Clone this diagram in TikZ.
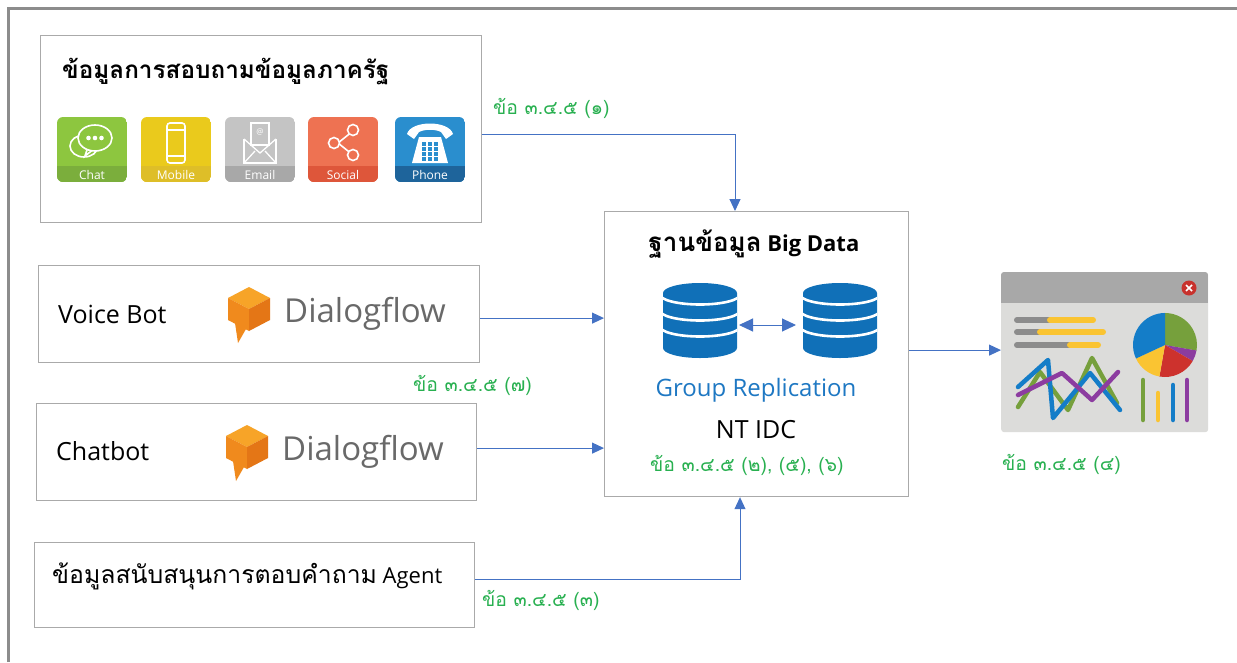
\documentclass[tikz,border=0pt]{standalone}
\usepackage{fontspec}
\setmainfont{Open Sans}
\newfontfamily\thaifont[Script=Thai, Scale=1.18]{Loma}
\usetikzlibrary{arrows.meta,calc}

\definecolor{framegray}{RGB}{140,140,140}
\definecolor{boxgray}{RGB}{170,170,170}
\definecolor{arrblue}{RGB}{68,114,196}
\definecolor{refgreen}{RGB}{40,176,80}
\definecolor{repblue}{RGB}{30,120,195}
\definecolor{dbblue}{RGB}{16,112,184}
\definecolor{dfgray}{RGB}{105,105,105}
\definecolor{dforange}{RGB}{240,138,29}
\definecolor{dflight}{RGB}{247,164,40}
\definecolor{dfdark}{RGB}{228,118,22}
\definecolor{dashbody}{RGB}{220,220,218}
\definecolor{dashhead}{RGB}{168,168,168}
\definecolor{dashred}{RGB}{200,50,45}
\definecolor{chartyellow}{RGB}{250,196,50}
\definecolor{chartgreen}{RGB}{118,160,60}
\definecolor{chartblue}{RGB}{20,125,200}
\definecolor{chartpurple}{RGB}{140,60,160}
\definecolor{chartred}{RGB}{205,50,45}
\definecolor{barbase}{RGB}{140,140,140}
\definecolor{chatgreen}{RGB}{141,198,63}
\definecolor{chatband}{RGB}{123,174,60}
\definecolor{mobyellow}{RGB}{234,202,28}
\definecolor{mobband}{RGB}{222,190,40}
\definecolor{mailgray}{RGB}{196,196,196}
\definecolor{mailband}{RGB}{168,168,168}
\definecolor{socorange}{RGB}{238,114,82}
\definecolor{socband}{RGB}{222,86,58}
\definecolor{phblue}{RGB}{42,142,206}
\definecolor{phband}{RGB}{30,100,155}

\tikzset{
  box/.style={draw=boxgray, line width=1.2pt, anchor=north west, inner sep=0pt},
  arr/.style={draw=arrblue, line width=1pt, -{Triangle[length=12pt,width=11pt]}},
  ref/.style={text=refgreen, anchor=west, inner sep=0pt, font=\thaifont\fontsize{16.4}{16.4}\selectfont},
  lbl/.style={anchor=west, inner sep=0pt, font=\fontsize{25}{25}\selectfont},
  iconlbl/.style={text=white, inner sep=0pt, font=\fontsize{12}{12}\selectfont},
  glyph/.style={draw=white, line width=1.6pt},
  chartline/.style={line width=4.5pt, line cap=round, line join=round},
  hbar/.style={line width=6pt, line cap=round},
}

% rounded app tile with a darker caption band
\newcommand\apptile[6]{%
  \begin{scope}[shift={(#1,117)}]
    \begin{scope}
      \path[clip, rounded corners=6pt] (0,0) rectangle (70,65);
      \fill[#2] (0,0) rectangle (70,65);
      \fill[#3] (0,49) rectangle (70,65);
    \end{scope}
    \node[iconlbl] (#6) at (35,57.5) {#4};
    #5
  \end{scope}}

% Dialogflow mark: orange cube with a speech tail
\newcommand\dfmark[2]{%
  \begin{scope}[shift={(#1,#2)}]
    \fill[dforange] (-14,14) -- (-3,20) -- (-11,34) -- cycle;
    \fill[dflight] (0,-22) -- (21,-11) -- (0,0) -- (-21,-11) -- cycle;
    \fill[dforange] (-21,-11) -- (0,0) -- (0,22) -- (-21,11) -- cycle;
    \fill[dfdark] (0,0) -- (21,-11) -- (21,11) -- (0,22) -- cycle;
  \end{scope}}

% database cylinder with three white separator rings
\newcommand\dbcyl[2]{%
  \begin{scope}[shift={(#1,#2)}]
    \begin{scope}
      \path[clip] (-37,10) arc[start angle=180, end angle=360, x radius=37, y radius=10]
        -- (37,65) arc[start angle=0, end angle=180, x radius=37, y radius=10] -- cycle;
      \fill[dbblue] (-40,-2) rectangle (40,80);
      \foreach \yy in {11.5,27.5,43.5}
        \draw[white, line width=2.6pt] (-40,\yy) arc[start angle=180, end angle=0, x radius=40, y radius=10];
    \end{scope}
  \end{scope}}

\begin{document}
\begin{tikzpicture}[x=1pt,y=-1pt]
  \useasboundingbox (0,0) rectangle (1237,662);
  \fill[white] (0,0) rectangle (1237,662);

  % outer frame (top and left edges)
  \draw[framegray, line width=2.2pt] (8.5,662) -- (8.5,8.5) -- (1237,8.5);

  % ---- input boxes ----
  \node[box, minimum width=441pt, minimum height=187pt] (q) at (40,35) {};
  \node[box, minimum width=441pt, minimum height=97pt] (vb) at (38,265) {};
  \node[box, minimum width=440pt, minimum height=97pt] (cb) at (36,403) {};
  \node[box, minimum width=440pt, minimum height=85pt] (ag) at (34,542) {};

  \node[anchor=west, inner sep=0pt, font=\thaifont\bfseries\fontsize{20.6}{20.6}\selectfont] (qt) at (62,72) {ข้อมูลการสอบถามข้อมูลภาครัฐ};

  % contact channel tiles
  \apptile{57}{chatgreen}{chatband}{Chat}{%
    \draw[glyph] (27,29) ellipse (14 and 11);
    \fill[chatgreen] (38,21) ellipse (17 and 13);
    \draw[glyph] (38,21) ellipse (17 and 13);
    \draw[glyph] (30,33) -- (28,39) -- (35,33.5);
    \foreach \xx in {31.5,38,44.5} \fill[white] (\xx,21) circle (2.3);
  }{tchat}
  \apptile{141}{mobyellow}{mobband}{Mobile}{%
    \draw[glyph, rounded corners=3pt] (26,6) rectangle (44,46);
    \draw[glyph] (26,13) -- (44,13) (26,39) -- (44,39);
  }{tmobile}
  \apptile{225}{mailgray}{mailband}{Email}{%
    \draw[glyph, line width=1.3pt] (26,6) rectangle (44,28);
    \node[text=white, inner sep=0pt, font=\fontsize{8}{8}\selectfont] (tat) at (35,15) {@};
    \draw[glyph, line width=1.3pt] (19,22) -- (19,46) -- (51,46) -- (51,22);
    \draw[glyph, line width=1.3pt] (19,22) -- (35,36) -- (51,22);
    \draw[glyph, line width=1.3pt] (19,46) -- (30,34) (51,46) -- (40,34);
  }{temail}
  \apptile{308}{socorange}{socband}{Social}{%
    \draw[glyph] (30,26) -- (45,14) (30,26) -- (45,38);
    \fill[socorange] (45,13) circle (5.5) (26,26) circle (5.5) (45,38) circle (5.5);
    \draw[glyph] (45,13) circle (5.5) (26,26) circle (5.5) (45,38) circle (5.5);
  }{tsocial}
  \apptile{395}{phblue}{phband}{Phone}{%
    \fill[white] (24,20) -- (46,20) -- (53,46) -- (17,46) -- cycle;
    \fill[white] (12,17) .. controls (16,3) and (54,3) .. (58,17) -- (51,22) -- (46,15)
      .. controls (40,12) and (30,12) .. (24,15) -- (19,22) -- cycle;
    \foreach \xx in {29,35,41} \foreach \yy in {27,32,37,42}
      \fill[phblue] (\xx-1.8,\yy-1.6) rectangle (\xx+1.8,\yy+1.6);
  }{tphone}

  % voice bot / chatbot rows
  \node[lbl] (vbt) at (58,314) {Voice Bot};
  \dfmark{249}{309}
  \node[anchor=west, inner sep=0pt, text=dfgray, font=\fontsize{33}{33}\selectfont] (df1) at (284,314) {Dialogflow};

  \node[lbl] (cbt) at (56,451) {Chatbot};
  \dfmark{247}{447}
  \node[anchor=west, inner sep=0pt, text=dfgray, font=\fontsize{33}{33}\selectfont] (df2) at (282,452) {Dialogflow};

  \node[anchor=west, inner sep=0pt, font=\fontsize{22}{22}\selectfont] (agt) at (52,576) {{\thaifont\fontsize{21}{21}\selectfont ข้อมูลสนับสนุนการตอบคำถาม} Agent};

  % ---- central big data box ----
  \node[box, minimum width=304pt, minimum height=285pt] (c) at (604,211) {};
  \node[inner sep=0pt, font=\bfseries\fontsize{22}{22}\selectfont] (ct) at (754,244) {{\thaifont ฐานข้อมูล} Big Data};
  \dbcyl{700}{283}
  \dbcyl{840}{283}
  \coordinate (dbl) at (739,325);
  \coordinate (dbr) at (796,325);
  \draw[draw=arrblue, line width=1pt, {Triangle[length=14pt,width=13pt]}-{Triangle[length=14pt,width=13pt]}] (dbl) -- (dbr);
  \node[inner sep=0pt, text=repblue, font=\fontsize{24}{24}\selectfont] (grp) at (756,390) {Group Replication};
  \node[inner sep=0pt, font=\fontsize{25}{25}\selectfont] (idc) at (756,430) {NT IDC};
  \node[ref] (r256) at (650,465) {ข้อ ๓.๔.๕ (๒), (๕), (๖)};

  % ---- dashboard ----
  \node[anchor=north west, inner sep=0pt, minimum width=207pt, minimum height=160pt, fill=dashbody, rounded corners=3pt] (dash) at (1001,272) {};
  \begin{scope}
    \path[clip, rounded corners=3pt] (1001,272) rectangle (1208,432);
    \fill[dashhead] (1001,272) rectangle (1208,303);
  \end{scope}
  \fill[dashred] (1189,288) circle (7.5);
  \draw[white, line width=1.6pt] (1186,285) -- (1192,291) (1186,291) -- (1192,285);
  % progress bars
  \draw[hbar, barbase] (1017,320) -- (1050,320);
  \draw[hbar, chartyellow] (1050,320) -- (1093,320);
  \draw[hbar, barbase] (1017,332) -- (1040,332);
  \draw[hbar, chartyellow] (1040,332) -- (1103,332);
  \draw[hbar, barbase] (1017,345) -- (1070,345);
  \draw[hbar, chartyellow] (1070,345) -- (1098,345);
  % pie chart
  \begin{scope}[shift={(1165,345)}]
    \fill[chartgreen] (0,0) -- (0,-32) arc[start angle=-90, end angle=10, radius=32] -- cycle;
    \fill[chartpurple] (0,0) -- (31.5,5.5) arc[start angle=10, end angle=30, radius=32] -- cycle;
    \fill[chartred] (0,0) -- (27.7,16) arc[start angle=30, end angle=100, radius=32] -- cycle;
    \fill[chartyellow] (0,0) -- (-5.6,31.5) arc[start angle=100, end angle=155, radius=32] -- cycle;
    \fill[chartblue] (0,0) -- (-29,13.5) arc[start angle=155, end angle=270, radius=32] -- cycle;
  \end{scope}
  % line charts
  \draw[chartline, chartgreen] (1018,407) -- (1040,372) -- (1068,410) -- (1092,358) -- (1117,403);
  \draw[chartline, chartblue] (1018,387) -- (1048,360) -- (1053,418) -- (1090,373) -- (1120,410);
  \draw[chartline, chartpurple] (1018,395) -- (1062,373) -- (1092,400) -- (1118,372);
  % column chart
  \draw[chartline, chartgreen] (1143,380) -- (1143,420);
  \draw[chartline, chartyellow] (1158,393) -- (1158,420);
  \draw[chartline, chartblue] (1173,385) -- (1173,420);
  \draw[chartline, chartpurple] (1187,380) -- (1187,420);

  % ---- connectors ----
  \coordinate (qout) at ($(q.east)+(0,5)$);
  \coordinate (qin) at ($(c.north west)+(131,0)$);
  \draw[arr] (qout) -| (qin);
  \coordinate (vbout) at ($(vb.east)+(0,4)$);
  \draw[arr] (vbout) -- (vbout -| c.west);
  \coordinate (cbout) at ($(cb.east)+(0,-4)$);
  \draw[arr] (cbout) -- (cbout -| c.west);
  \coordinate (agout) at ($(ag.east)+(0,-6)$);
  \coordinate (agin) at ($(c.south west)+(136,0)$);
  \draw[arr] (agout) -| (agin);
  \coordinate (cout) at ($(c.east)+(0,-4)$);
  \draw[arr] (cout) -- (cout -| dash.west);

  % reference labels
  \node[ref] (r1) at (493,108) {ข้อ ๓.๔.๕ (๑)};
  \node[ref] (r7) at (413,385) {ข้อ ๓.๔.๕ (๗)};
  \node[ref] (r3) at (482,600) {ข้อ ๓.๔.๕ (๓)};
  \node[ref] (r4) at (1002,464) {ข้อ ๓.๔.๕ (๔)};
\end{tikzpicture}
\end{document}
